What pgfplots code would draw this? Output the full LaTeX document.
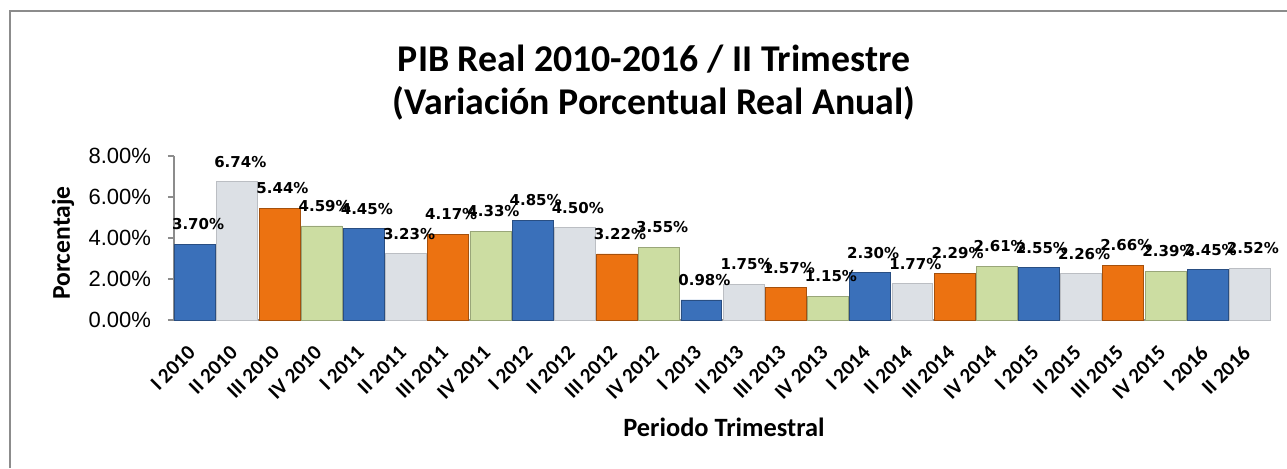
\documentclass[border=0pt]{standalone}
\usepackage{pgfplots}
\pgfplotsset{compat=1.18}
\usepackage{fontspec}
\setmainfont{Carlito}
\newfontfamily\arialfont{Liberation Sans}
\newfontfamily\valfont{DejaVu Sans}

\definecolor{qone}{HTML}{3A70BA}
\definecolor{qtwo}{HTML}{DCE0E5}
\definecolor{qthree}{HTML}{EC7211}
\definecolor{qfour}{HTML}{CCDDA2}
\definecolor{framegray}{HTML}{8C8C8C}

\begin{document}
\begin{tikzpicture}
% picture is 1287x468 px at 0.5pt per px
\path[use as bounding box] (0,0) rectangle (643.5pt,234pt);
\draw[framegray, line width=1pt] (5pt,0) -- (5pt,228.5pt) -- (643.5pt,228.5pt);

\node[font=\bfseries\fontsize{18.9}{21.5}\selectfont, align=center] at (327pt,192.5pt)
  {PIB Real 2010-2016 / II Trimestre\\(Variación Porcentual Real Anual)};
\node[font=\bfseries\fontsize{12.8}{15}\selectfont, rotate=90] at (31.5pt,112.5pt) {Porcentaje};
\node[font=\bfseries\fontsize{13.2}{15}\selectfont] at (362pt,20.5pt) {Periodo Trimestral};

\begin{axis}[
  at={(87pt,74pt)}, anchor=south west,
  scale only axis, width=548.5pt, height=82pt,
  xmin=-0.5, xmax=25.5, ymin=0, ymax=8,
  ybar, bar width=0.97,
  axis x line*=bottom, axis y line*=left,
  axis line style={black!45, line width=0.6pt},
  ytick={0,2,4,6,8},
  yticklabel={\pgfmathprintnumber[fixed,fixed zerofill,precision=2]{\tick}\%},
  yticklabel style={font=\arialfont\fontsize{11}{13}\selectfont, xshift=-5pt},
  /pgf/number format/assume math mode=true,
  tick align=outside,
  y tick style={black!45, line width=0.6pt},
  major tick length=3pt,
  xtick={0,...,25},
  x tick style={draw=none},
  xticklabels={I 2010, II 2010, III 2010, IV 2010, I 2011, II 2011, III 2011, IV 2011,
    I 2012, II 2012, III 2012, IV 2012, I 2013, II 2013, III 2013, IV 2013,
    I 2014, II 2014, III 2014, IV 2014, I 2015, II 2015, III 2015, IV 2015,
    I 2016, II 2016},
  xticklabel style={rotate=45, anchor=north east, xshift=-6pt, yshift=0pt,
    font=\bfseries\fontsize{10.5}{12}\selectfont},
  nodes near coords={\pgfmathprintnumber[fixed,fixed zerofill,precision=2]{\pgfplotspointmeta}\%},
  every node near coord/.append style={font=\valfont\bfseries\fontsize{7.5}{9}\selectfont,
    anchor=south, yshift=6pt, xshift=1.5pt, inner sep=1pt},
  clip=false,
]
\addplot[bar shift=0pt, fill=qone, draw=qone!70!black] coordinates
  {(0,3.70) (4,4.45) (8,4.85) (12,0.98) (16,2.30) (20,2.55) (24,2.45)};
\addplot[bar shift=0pt, fill=qtwo, draw=qtwo!85!black] coordinates
  {(1,6.74) (5,3.23) (9,4.50) (13,1.75) (17,1.77) (21,2.26) (25,2.52)};
\addplot[bar shift=0pt, fill=qthree, draw=qthree!70!black] coordinates
  {(2,5.44) (6,4.17) (10,3.22) (14,1.57) (18,2.29) (22,2.66)};
\addplot[bar shift=0pt, fill=qfour, draw=qfour!75!black] coordinates
  {(3,4.59) (7,4.33) (11,3.55) (15,1.15) (19,2.61) (23,2.39)};
\end{axis}
\end{tikzpicture}
\end{document}
